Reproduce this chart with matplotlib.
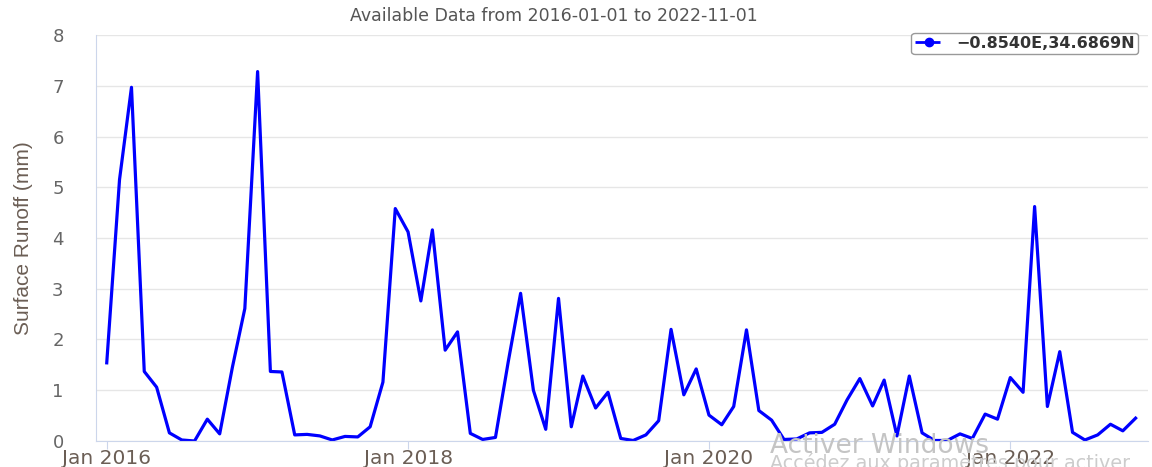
import matplotlib
matplotlib.use("Agg")
import matplotlib.pyplot as plt
import pandas as pd

# monthly surface runoff (mm), Jan 2016 .. Nov 2022
runoff = [
    1.54, 5.15, 6.97, 1.37, 1.06, 0.16, 0.02, 0.00, 0.43, 0.14, 1.46, 2.61,
    7.28, 1.37, 1.36, 0.12, 0.13, 0.10, 0.02, 0.09, 0.08, 0.28, 1.16, 4.58,
    4.12, 2.76, 4.16, 1.79, 2.15, 0.15, 0.03, 0.07, 1.56, 2.91, 1.00, 0.23,
    2.81, 0.28, 1.28, 0.65, 0.96, 0.05, 0.01, 0.12, 0.40, 2.20, 0.91, 1.42,
    0.51, 0.32, 0.68, 2.19, 0.60, 0.41, 0.03, 0.04, 0.16, 0.17, 0.33, 0.81,
    1.23, 0.69, 1.20, 0.10, 1.28, 0.16, 0.01, 0.01, 0.14, 0.05, 0.53, 0.43,
    1.25, 0.96, 4.62, 0.68, 1.76, 0.17, 0.02, 0.12, 0.33, 0.20, 0.45,
]
dates = pd.date_range("2016-01-01", periods=len(runoff), freq="MS")
tick_dates = pd.to_datetime(["2016-01-01", "2018-01-01", "2020-01-01", "2022-01-01"])
tick_labels = ["Jan 2016", "Jan 2018", "Jan 2020", "Jan 2022"]
series_name = "\u22120.8540E,34.6869N"

fig = plt.figure(figsize=(11.52, 4.67), dpi=100)
ax = fig.add_axes([0.083, 0.0557, 0.9135, 0.8693])

ax.plot(dates, runoff, color="#0000ff", lw=2.3, label=series_name)

ax.set_xlim(pd.Timestamp("2015-12-05"), pd.Timestamp("2022-12-01"))
ax.set_ylim(0, 8)
ax.set_yticks(range(0, 9))
ax.set_xticks(tick_dates)
ax.set_xticklabels(tick_labels)

ax.grid(axis="y", color="#e6e6e6", lw=1)
ax.set_axisbelow(True)
for s in ["top", "right"]:
    ax.spines[s].set_visible(False)
ax.spines["left"].set_color("#ccd6eb")
ax.spines["bottom"].set_color("#ccd6eb")
ax.tick_params(axis="y", length=0, pad=23, labelsize=13, labelcolor="#666666")
ax.tick_params(axis="x", length=6, color="#ccd6eb", pad=0, labelsize=14.5,
               labelcolor="#6b5e55")

ax.set_ylabel("Surface Runoff (mm)", fontsize=15, color="#6b5e55",
              family=["Liberation Sans Narrow", "Liberation Sans", "DejaVu Sans"],
              labelpad=14)

fig.text(0.481, 0.965, "Available Data from 2016\u201101\u201101 to 2022\u201111\u201101",
         ha="center", va="center", fontsize=12.5, color="#555555")

leg = ax.legend(handles=[plt.Line2D([], [], color="#0000ff", lw=2, ls="--",
                                    marker="o", markersize=6)],
                labels=[series_name], loc="upper right",
                bbox_to_anchor=(0.998, 1.025), frameon=True, fancybox=True,
                fontsize=11.5, handlelength=1.8, borderpad=0.2,
                edgecolor="#999999", framealpha=1)
for t in leg.get_texts():
    t.set_color("#333333")
    t.set_fontweight("bold")

# Windows activation watermark visible in the source screenshot
fig.text(0.668, 0.03, "Activer Windows", fontsize=19, color="#c4c4c4")
fig.text(0.668, -0.004, "Accédez aux paramètres pour activer",
         fontsize=13.8, color="#cccccc")

fig.savefig("out.png", dpi=100)
